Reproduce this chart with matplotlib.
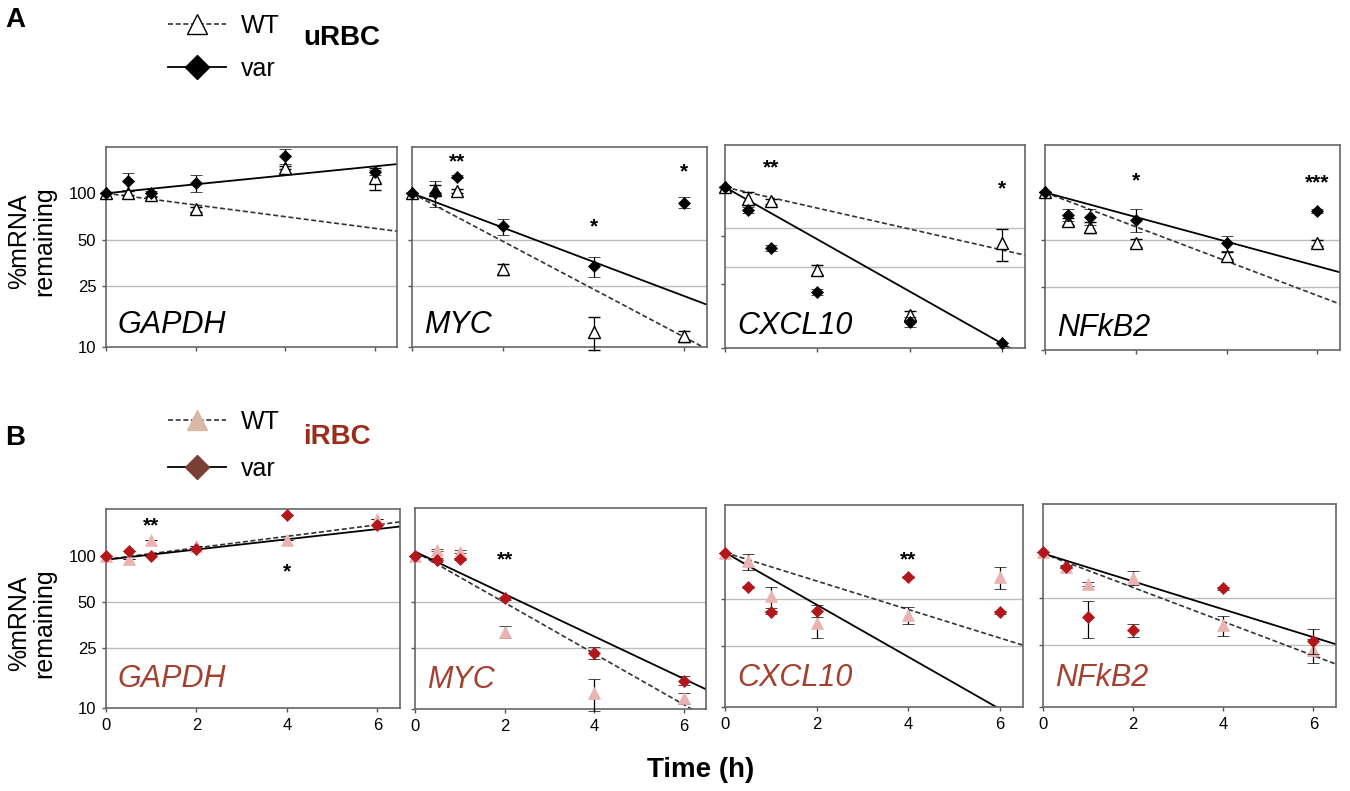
import numpy as np
import matplotlib.pyplot as plt
from matplotlib.lines import Line2D
from matplotlib.ticker import FixedLocator, NullLocator, NullFormatter

plt.rcParams['font.family'] = ['Liberation Sans', 'DejaVu Sans']

# time points (h) and genes
times = [0, 0.5, 1, 2, 4, 6]
genes = ["GAPDH", "MYC", "CXCL10", "NFkB2"]

# uRBC, % mRNA remaining, one row per gene
urbc_wt = [[100, 101, 97, 79, 147, 125],
           [100, 105, 104, 32, 12.6, 11.8],
           [100, 85, 82, 30.6, 16, 45],
           [100, 65.5, 60, 48, 39.6, 48]]
urbc_wt_err = [[0, 3, 3, 3, 4, 20],
               [0, 8, 3, 2.5, 3, 1],
               [0, 8, 3, 2, 1, 10],
               [0, 3, 5, 3, 2, 2]]
urbc_var = [[100, 120, 100, 117, 174, 137],
            [100, 101, 128, 61, 33.5, 87],
            [100, 72, 42, 22.4, 14.6, 10.7],
            [100, 72, 70, 67, 47.7, 76]]
urbc_var_err = [[0, 15, 4, 15, 20, 5],
                [0, 20, 3, 7.5, 5, 7],
                [0, 3, 2, 1, 1, 0],
                [0, 6, 8, 11, 5, 2]]
# exponential fits: (value at t=0, log10 change per hour)
urbc_wt_fit = [(100, -0.038), (100, -0.156), (100, -0.065), (100, -0.109)]
urbc_var_fit = [(100, 0.0292), (100, -0.1115), (100, -0.162), (100, -0.078)]
urbc_stars = [[],
              [(1, 161, "**"), (4, 60.5, "*"), (6, 137, "*")],
              [(1, 132, "**"), (6, 97, "*")],
              [(2, 119, "*"), (6, 115, "***")]]

# iRBC
irbc_wt = [[100, 96, 127, 116, 128, 176],
           [100, 109, 106, 31.8, 12.7, 11.8],
           [100, 87.5, 52, 35, 39.5, 69],
           [100, 80, 62, 68, 33.5, 23.3]]
irbc_wt_err = [[0, 0, 0, 0, 0, 0],
               [0, 2, 2, 3, 3, 1],
               [0, 11, 8, 7, 5, 11],
               [0, 2, 2, 7, 5, 4]]
irbc_var = [[100, 108, 100, 112, 185, 159],
            [100, 94, 95, 52.5, 23.3, 15.3],
            [100, 60, 41, 42, 69, 41],
            [100, 80, 38, 31.4, 58, 26.8]]
irbc_var_err = [[0, 0, 0, 0, 0, 0],
                [0, 3, 1, 1, 2, 1],
                [0, 1, 1, 4, 1, 1],
                [0, 1, 10, 3, 1, 5]]
irbc_wt_fit = [(95, 0.038), (106, -0.166), (100, -0.0923), (97.5, -0.1097)]
irbc_var_fit = [(94.6, 0.0336), (106, -0.138), (100, -0.169), (97.5, -0.090)]
irbc_stars = [[(1, 159, "**"), (4, 79, "*")],
              [(2, 94, "**")],
              [(4, 90, "**")],
              []]

# per-panel y range and grid lines (CXCL10 uRBC panel is drawn on its own scale)
ytop_a = [200, 200, 183, 200]
grid_a = [[50, 25], [50, 25], [56, 32], [50, 25]]
ytop_b = [204, 204, 203, 203]
grid_b = [[50, 25], [50, 25], [50, 25], [50, 25]]

W, H = 1350, 791
fig = plt.figure(figsize=(W / 100, H / 100), dpi=100)


def px_rect(l, r, t, b):
    return [l / W, 1 - b / H, (r - l) / W, (b - t) / H]


boxes_a = [(106, 397, 147, 347), (412, 707, 147, 347),
           (725, 1025, 145, 348), (1045, 1340, 145, 350)]
boxes_b = [(106, 400, 509, 708), (415, 706, 508, 709),
           (725, 1023, 505, 707), (1043, 1336, 504, 707)]

fit_t = np.linspace(0, 6.5, 60)
wt_style_a = dict(marker="^", ms=8, mfc="white", mec="black", mew=1.0)
var_style_a = dict(marker="D", ms=6, mfc="black", mec="black", mew=0.5)
wt_style_b = dict(marker="^", ms=9, mfc="#eab3b1", mec="#eab3b1", mew=0.5)
var_style_b = dict(marker="D", ms=6, mfc="#b3161b", mec="#b3161b", mew=0.5)


def draw_panel(ax, i, wt, wt_err, var, var_err, wt_fit, var_fit, stars,
               ytop, grid, wt_style, var_style, gene_color, gene_y, bottom_row):
    ax.set_yscale("log")
    ax.set_xlim(0, 6.5)
    ax.set_ylim(10, ytop)
    for g in grid:
        ax.axhline(g, color="#bdbdbd", lw=1.0, zorder=0)

    a, s = wt_fit
    ax.plot(fit_t, a * 10 ** (s * fit_t), color="#333333", lw=1.2,
            ls=(0, (3, 1.6)), zorder=2)
    a, s = var_fit
    ax.plot(fit_t, a * 10 ** (s * fit_t), color="black", lw=1.3, zorder=2)

    ax.errorbar(times, wt, yerr=wt_err, ls="none", ecolor="black", elinewidth=0.9,
                capsize=4, capthick=0.9, zorder=3, clip_on=False, **wt_style)
    ax.errorbar(times, var, yerr=var_err, ls="none", ecolor="black", elinewidth=0.9,
                capsize=4, capthick=0.9, zorder=4, clip_on=False, **var_style)

    for t, v, lab in stars:
        ax.text(t, v, lab, ha="center", va="center", fontsize=15,
                fontweight="bold", color="black", zorder=5)

    ax.text(0.04, gene_y, genes[i], transform=ax.transAxes, fontsize=22,
            style="italic", color=gene_color, ha="left", va="baseline")

    ax.yaxis.set_major_locator(FixedLocator([10, 25, 50, 100]))
    ax.yaxis.set_minor_locator(NullLocator())
    ax.yaxis.set_minor_formatter(NullFormatter())
    ax.set_xticks([0, 2, 4, 6])
    if i == 0:
        ax.set_yticklabels(["10", "25", "50", "100"])
    else:
        ax.set_yticklabels([])
    if bottom_row:
        ax.set_xticklabels(["0", "2", "4", "6"])
    else:
        ax.set_xticklabels([])
    ax.tick_params(axis="both", direction="out", length=3, width=1,
                   color="#555555", labelsize=12, pad=4)
    for sp in ax.spines.values():
        sp.set_color("#666666")
        sp.set_linewidth(1.2)


for i in range(4):
    ax = fig.add_axes(px_rect(*boxes_a[i]))
    draw_panel(ax, i, urbc_wt[i], urbc_wt_err[i], urbc_var[i], urbc_var_err[i],
               urbc_wt_fit[i], urbc_var_fit[i], urbc_stars[i], ytop_a[i], grid_a[i],
               wt_style_a, var_style_a, "black", 0.07, False)
    ax = fig.add_axes(px_rect(*boxes_b[i]))
    draw_panel(ax, i, irbc_wt[i], irbc_wt_err[i], irbc_var[i], irbc_var_err[i],
               irbc_wt_fit[i], irbc_var_fit[i], irbc_stars[i], ytop_b[i], grid_b[i],
               wt_style_b, var_style_b, "#a3412e", 0.105, True)

# y labels
for yc in (241, 623):
    fig.text(32 / W, 1 - yc / H, "%mRNA\nremaining", rotation=90, ha="center",
             va="center", fontsize=18, linespacing=1.05, multialignment="center")

fig.text(701 / W, 1 - 770 / H, "Time (h)", ha="center", va="center",
         fontsize=20, fontweight="bold")

# panel letters
fig.text(5 / W, 1 - 20 / H, "A", ha="left", va="center", fontsize=20, fontweight="bold")
fig.text(5 / W, 1 - 438 / H, "B", ha="left", va="center", fontsize=20, fontweight="bold")

# legends
leg_a = [Line2D([], [], color="#333333", ls=(0, (3, 1.6)), lw=1.2, marker="^", ms=14,
                mfc="white", mec="black", mew=1.0),
         Line2D([], [], color="black", lw=1.3, marker="D", ms=12, mfc="black", mec="black")]
leg_b = [Line2D([], [], color="#333333", ls=(0, (3, 1.6)), lw=1.2, marker="^", ms=15,
                mfc="#d9b9a6", mec="#d9b9a6"),
         Line2D([], [], color="black", lw=1.3, marker="D", ms=12, mfc="#7a3f35", mec="#7a3f35")]

for handles, ytop, spacing in ((leg_a, 14, 0.76), (leg_b, 410, 0.92)):
    fig.legend(handles, ["WT", "var"], loc="upper left",
               bbox_to_anchor=(168 / W, 1 - ytop / H), frameon=False, fontsize=18,
               handlelength=2.3, handletextpad=0.6, labelspacing=spacing,
               borderpad=0, borderaxespad=0)

fig.text(303 / W, 1 - 38 / H, "uRBC", ha="left", va="center", fontsize=20,
         fontweight="bold")
fig.text(303 / W, 1 - 437 / H, "iRBC", ha="left", va="center", fontsize=20,
         fontweight="bold", color="#9b2c1c")

fig.savefig("out.png", dpi=100)
